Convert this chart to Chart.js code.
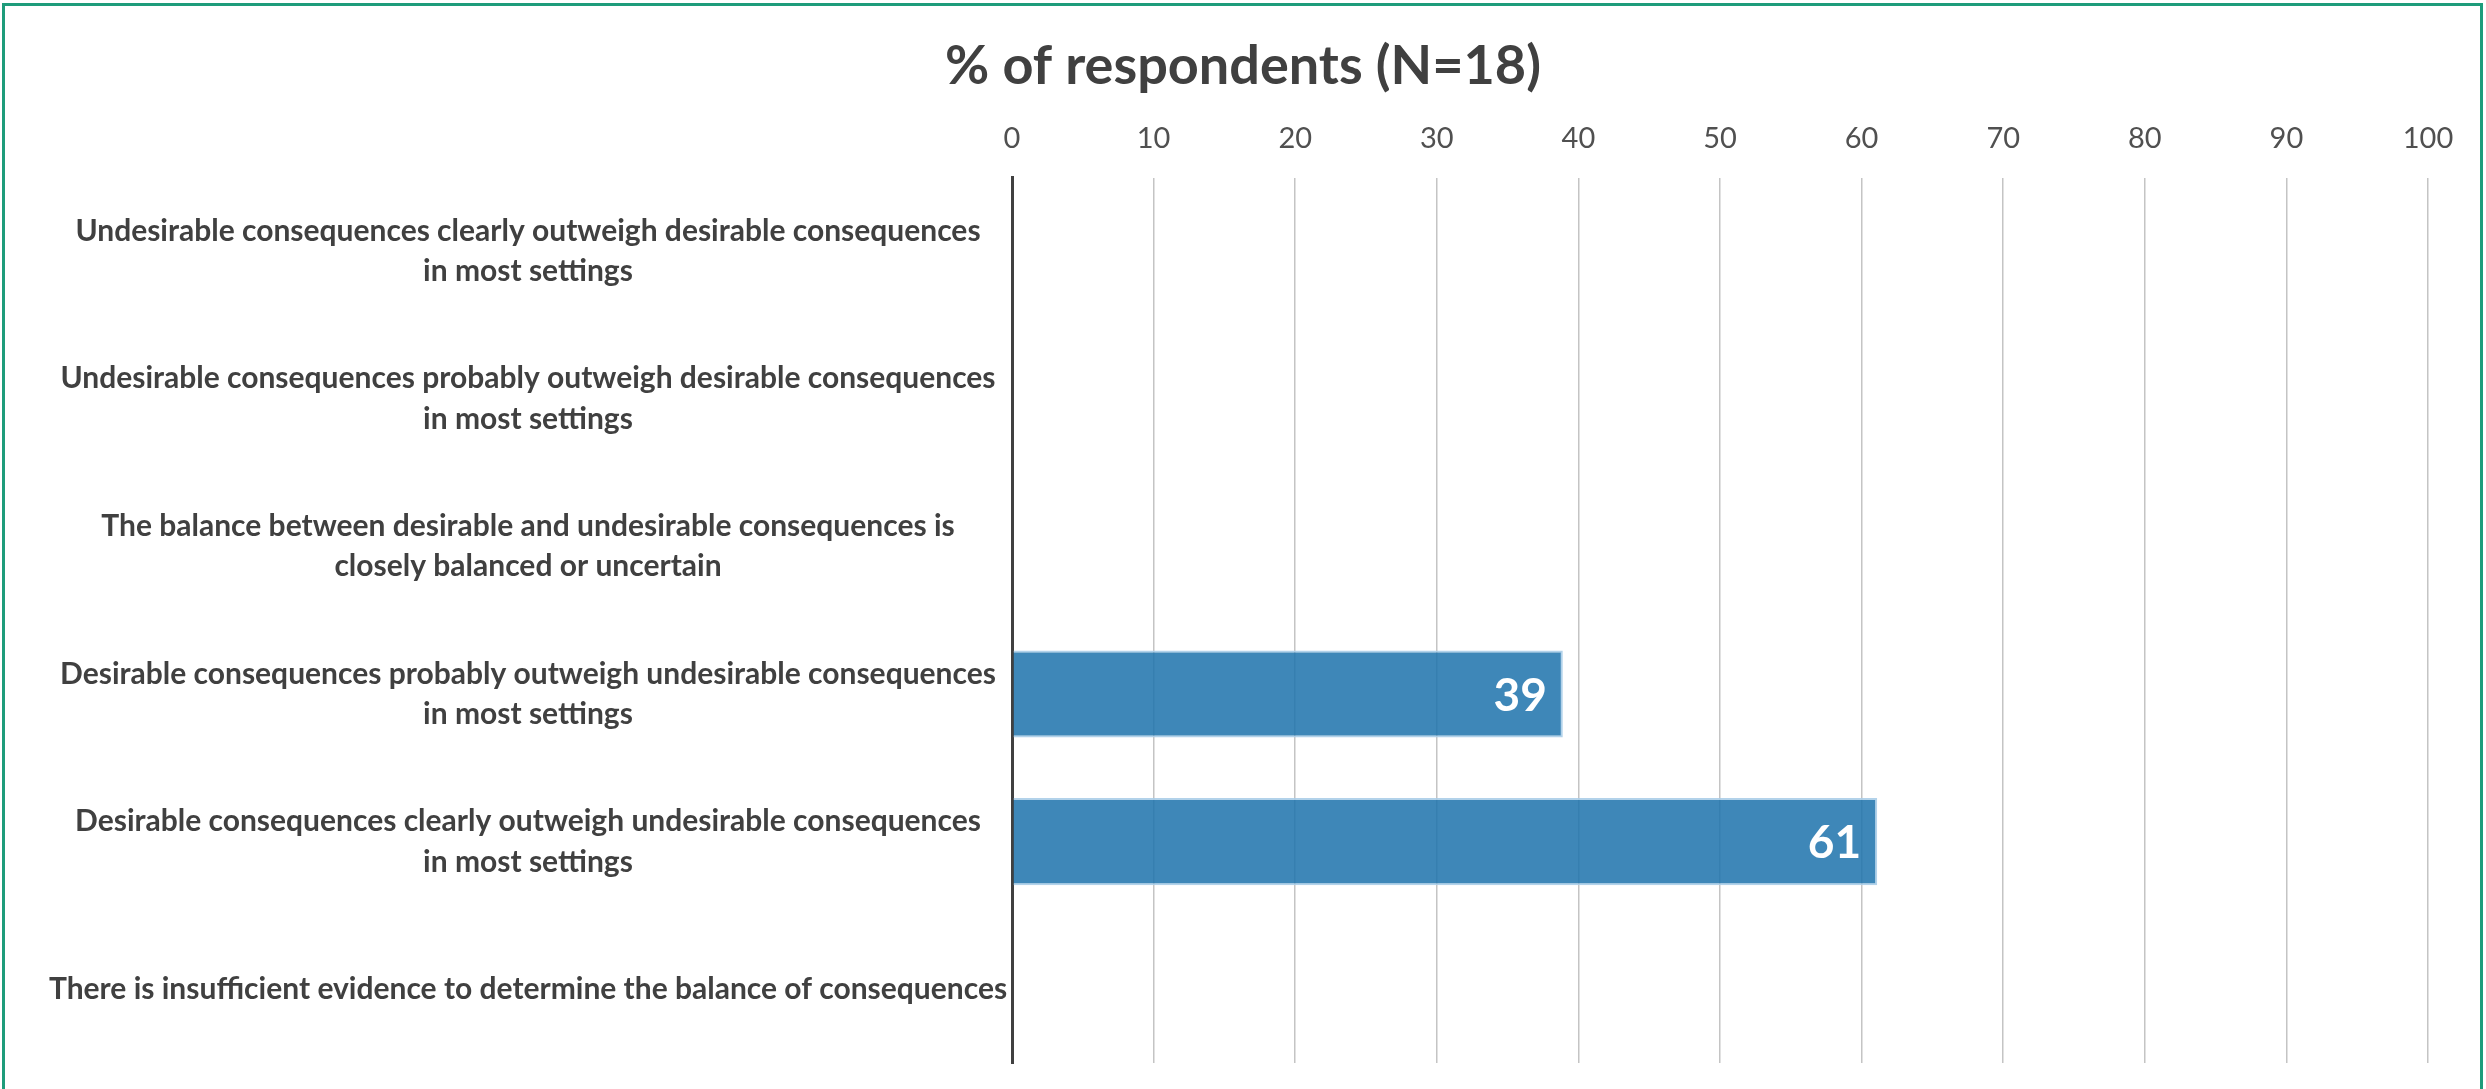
<!DOCTYPE html>
<html>
<head>
<meta charset="utf-8">
<script src="https://cdn.jsdelivr.net/npm/chart.js@4.4.1/dist/chart.umd.min.js"></script>
<style>
  html,body{margin:0;padding:0;background:#fff;overflow:hidden;}
  #wrap{position:absolute;left:0;top:0;width:2486px;height:1089px;}
  #frame{position:absolute;left:2px;top:3px;width:2475px;height:1200px;border:3px solid #1e9c7b;pointer-events:none;}
</style>
</head>
<body>
<div id="wrap"><canvas id="chart" width="2486" height="1089"></canvas></div>
<div id="frame"></div>
<script>
const categories = [
  ['Undesirable consequences clearly outweigh desirable consequences', 'in most settings'],
  ['Undesirable consequences probably outweigh desirable consequences', 'in most settings'],
  ['The balance between desirable and undesirable consequences is', 'closely balanced or uncertain'],
  ['Desirable consequences probably outweigh undesirable consequences', 'in most settings'],
  ['Desirable consequences clearly outweigh undesirable consequences', 'in most settings'],
  'There is insufficient evidence to determine the balance of consequences'
];
const percentValues = [0, 0, 0, 38.9, 61.1, 0];
const xTicks = [0, 10, 20, 30, 40, 50, 60, 70, 80, 90, 100];
const titleText = '% of respondents (N=18)';

const FONT = "Lato, 'Open Sans', sans-serif";

// white value labels drawn inside the bar ends
const barValueLabels = {
  id: 'barValueLabels',
  afterDatasetsDraw(chart){
    const ctx = chart.ctx;
    const meta = chart.getDatasetMeta(0);
    ctx.save();
    ctx.font = `bold 46px ${FONT}`;
    ctx.fillStyle = '#ffffff';
    ctx.textAlign = 'right';
    ctx.textBaseline = 'middle';
    meta.data.forEach((bar, i) => {
      const v = percentValues[i];
      if (!v) return;
      ctx.fillText(String(Math.round(v)), bar.x - 16, bar.y + 2);
    });
    ctx.restore();
  }
};

new Chart(document.getElementById('chart'), {
  type: 'bar',
  data: {
    labels: categories,
    datasets: [{
      data: percentValues,
      backgroundColor: 'rgba(30,115,172,0.86)',
      borderColor: 'rgba(170,205,232,0.9)',
      borderWidth: percentValues.map(v => v > 0 ? 2 : 0),
      borderSkipped: 'start',
      categoryPercentage: 1,
      barPercentage: 0.59
    }]
  },
  options: {
    indexAxis: 'y',
    responsive: false,
    devicePixelRatio: 1,
    animation: false,
    layout: { padding: { top: 10, right: 0, bottom: 26, left: 0 } },
    plugins: {
      legend: { display: false },
      tooltip: { enabled: false },
      title: {
        display: true,
        text: titleText,
        color: '#404040',
        font: { family: FONT, size: 54, weight: 'bold' },
        padding: { top: 24, bottom: 0 }
      }
    },
    scales: {
      x: {
        position: 'top',
        min: 0, max: 100,
        afterBuildTicks: s => { s.ticks = xTicks.map(v => ({ value: v })); },
        afterFit: s => { s.paddingLeft = 0; s.paddingRight = 58; },
        ticks: {
          color: '#505050',
          font: { family: FONT, size: 29 },
          padding: 22
        },
        grid: {
          color: c => c.tick && c.tick.value === 0 ? '#404040' : '#c4c4c4',
          lineWidth: c => c.tick && c.tick.value === 0 ? 3 : 1.5,
          drawTicks: false
        },
        border: { display: false }
      },
      y: {
        afterFit: s => {
          s.width = 1012; s.paddingTop = 0; s.paddingBottom = 0;
          // centre the label blocks on the two-line labels rather than the long last one
          const sizes = s._getLabelSizes();
          if (sizes && sizes.widest) sizes.widest.width = 904;
        },
        ticks: {
          autoSkip: false,
          crossAlign: 'center',
          color: '#404040',
          font: { family: FONT, size: 30, weight: 'bold', lineHeight: 1.35 },
          padding: 32
        },
        grid: { display: false, drawTicks: false },
        border: { display: true, color: '#404040', width: 3 }
      }
    }
  },
  plugins: [barValueLabels]
});
</script>
</body>
</html>
